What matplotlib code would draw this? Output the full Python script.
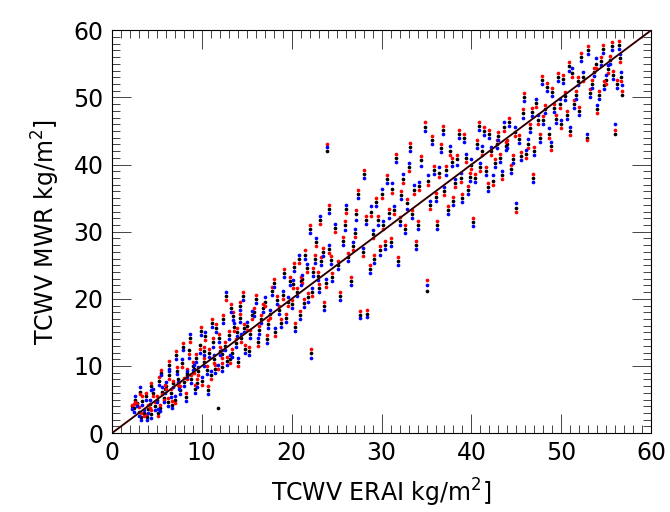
import matplotlib
matplotlib.use('Agg')
import matplotlib.pyplot as plt
from matplotlib.ticker import MultipleLocator

# TCWV from ERA-Interim (x) and the three MWR retrievals (y), kg/m2
erai = [2.2, 2.5, 2.6, 2.8, 3.0, 3.1, 3.2, 3.4, 3.6, 3.8,
        3.9, 4.0, 4.2, 4.3, 4.4, 4.6, 4.8, 5.0, 5.1, 5.2,
        5.4, 5.5, 5.6, 5.8, 5.9, 6.0, 6.2, 6.3, 6.4, 6.6,
        6.7, 6.8, 7.0, 7.1, 7.2, 7.4, 7.5, 7.6, 7.8, 7.9,
        8.0, 8.2, 8.3, 8.4, 8.6, 8.7, 8.8, 9.0, 9.1, 9.2,
        9.4, 9.5, 9.6, 9.8, 9.9, 10.0, 10.2, 10.3, 10.4, 10.6,
        10.7, 10.8, 11.0, 11.1, 11.2, 11.4, 11.5, 11.6, 11.8, 11.9,
        12.0, 12.2, 12.3, 12.4, 12.6, 12.7, 12.8, 13.0, 13.1, 13.2,
        13.4, 13.5, 13.6, 13.8, 13.9, 14.0, 14.2, 14.3, 14.4, 14.6,
        14.7, 14.8, 15.0, 15.2, 15.4, 15.6, 15.8, 16.0, 16.2, 16.4,
        16.6, 16.8, 17.0, 17.2, 17.4, 17.6, 17.8, 18.0, 18.2, 18.4,
        18.6, 18.8, 19.0, 19.2, 19.4, 19.6, 19.8, 20.0, 20.1, 20.3,
        20.4, 20.6, 20.8, 20.9, 21.0, 21.2, 21.4, 21.5, 21.7, 21.8,
        22.0, 22.1, 22.3, 22.4, 22.6, 22.7, 22.9, 23.0, 23.2, 23.3,
        23.5, 23.6, 23.8, 23.9, 24.1, 24.2, 24.4, 24.5, 24.8, 25.1,
        25.4, 25.7, 26.0, 26.3, 26.6, 27.0, 27.4, 27.6, 27.9, 28.3,
        28.4, 28.7, 29.0, 29.4, 29.8, 30.2, 30.6, 31.0, 31.4, 31.8,
        32.2, 32.6, 33.0, 33.4, 33.8, 34.2, 34.8, 35.0, 35.4, 35.8,
        36.2, 36.6, 37.0, 37.4, 37.8, 38.2, 38.6, 39.0, 39.4, 39.8,
        40.2, 40.6, 41.0, 41.4, 41.8, 42.2, 42.6, 43.0, 43.4, 43.8,
        44.2, 44.6, 45.0, 45.3, 45.7, 46.1, 46.5, 46.8, 47.2, 47.6,
        48.0, 48.4, 48.8, 49.2, 49.6, 50.0, 50.4, 50.8, 51.0, 51.4,
        51.8, 52.2, 52.8, 53.2, 53.6, 54.0, 54.4, 54.8, 55.2, 55.6,
        56.0, 56.2, 56.5, 56.8,
        25.9, 26.8, 27.2, 28.0, 28.8, 29.2, 29.6, 30.0, 30.4, 30.8,
        31.2, 31.6, 32.0, 32.4, 32.8, 33.2, 33.6, 34.0, 34.4, 35.2,
        35.6, 36.0, 36.4, 36.8, 37.2, 37.6, 38.0, 38.4, 38.8, 39.2,
        39.6, 40.0, 40.4, 40.8, 41.2, 41.6, 42.0, 42.4, 42.8, 43.2,
        43.6, 44.0, 44.4, 44.8, 45.5, 45.9, 46.3, 46.7, 47.0, 47.4,
        47.8, 48.2, 48.6, 49.0, 49.4, 49.8, 50.2, 50.6, 51.2, 51.6,
        52.0, 52.4, 53.0, 53.4, 53.8, 54.2, 54.6, 55.0, 55.4, 55.8,
        56.4, 56.6]

mwr_black = [4.0, 3.8, 5.0, 4.5, 3.2, 6.2, 2.4, 4.8, 3.0, 5.5,
             2.4, 3.6, 4.4, 7.0, 2.8, 6.0, 4.0, 5.0, 3.0, 7.8,
             3.8, 9.0, 6.2, 5.2, 6.6, 7.0, 4.6, 10.2, 8.6, 6.0,
             4.2, 7.4, 5.0, 11.6, 9.2, 8.0, 7.0, 6.4, 10.4, 12.8,
             7.6, 5.4, 8.6, 9.0, 12.4, 14.2, 8.0, 10.0, 9.6, 6.6,
             11.2, 7.4, 9.2, 13.2, 15.2, 7.8, 10.6, 12.2, 14.4, 9.4,
             6.4, 12.0, 8.6, 16.4, 13.6, 11.0, 9.6, 15.6, 3.7, 14.2,
             12.2, 9.8, 11.8, 17.0, 13.0, 20.4, 10.8, 14.6, 11.0, 18.6,
             12.0, 17.4, 15.8, 13.4, 15.0, 10.6, 17.2, 19.0, 14.2, 20.4,
             15.6, 12.6, 16.0, 12.2, 14.8, 17.6, 18.0, 20.0, 13.6, 15.4,
             17.0, 18.6, 19.6, 14.0, 16.2, 17.8, 21.2, 22.4, 15.0, 19.8,
             18.4, 16.4, 20.6, 23.8, 17.2, 19.6, 22.6, 19.2, 22.2, 24.8,
             15.8, 21.0, 26.0, 17.6, 22.6, 23.0, 19.4, 26.6, 24.6, 20.2,
             30.4, 12.0, 21.0, 24.0, 26.0, 28.4, 23.4, 21.6, 31.8, 25.6,
             27.0, 19.0, 22.4, 42.0, 33.4, 27.4, 25.8, 23.2, 30.6, 25.0,
             20.4, 28.6, 33.4, 26.2, 22.6, 29.8, 35.6, 17.6, 27.0, 31.8,
             17.8, 24.4, 29.6, 34.4, 27.2, 31.0, 37.8, 28.4, 33.2, 25.6,
             35.4, 30.4, 39.6, 32.6, 28.0, 36.8, 45.6, 21.2, 34.0, 39.2,
             31.0, 42.4, 36.0, 33.2, 40.4, 37.2, 44.6, 35.0, 41.0, 38.2,
             31.4, 43.0, 39.6, 45.0, 36.6, 42.0, 40.2, 44.2, 38.4, 42.8,
             46.4, 40.8, 33.6, 43.8, 47.6, 41.6, 45.4, 38.0, 49.2, 44.0,
             46.6, 51.6, 42.8, 48.4, 53.0, 46.0, 50.2, 54.6, 45.0, 49.0,
             52.4, 56.0, 44.0, 50.6, 53.8, 48.2, 55.4, 51.8, 54.2, 57.6,
             44.6, 52.0, 55.8, 50.4,
             31.0, 27.8, 32.6, 38.6, 33.0, 26.0, 31.8, 35.6, 28.0, 32.8,
             36.4, 41.0, 31.6, 37.8, 34.2, 42.6, 36.2, 31.0, 40.6, 37.6,
             43.6, 35.2, 38.8, 45.2, 39.2, 42.0, 34.6, 40.8, 38.0, 44.0,
             36.2, 40.0, 38.0, 45.8, 42.0, 39.0, 44.6, 37.6, 43.0, 41.0,
             45.6, 43.0, 39.4, 44.8, 41.2, 50.0, 43.0, 47.8, 42.0, 46.6,
             52.6, 48.2, 44.6, 50.8, 46.8, 49.0, 52.8, 47.4, 53.6, 50.4,
             48.0, 53.0, 57.0, 52.0, 55.0, 50.4, 57.2, 52.6, 55.6, 53.4,
             57.8, 53.0]

mwr_red = [4.2, 4.4, 4.6, 4.3, 3.9, 5.8, 3.0, 5.6, 2.6, 6.0,
           2.9, 4.2, 3.8, 7.4, 3.4, 5.5, 4.6, 5.6, 2.6, 8.4,
           4.2, 9.4, 5.8, 5.0, 7.2, 6.5, 5.2, 10.8, 8.0, 6.6,
           4.8, 7.8, 4.5, 12.2, 9.8, 7.2, 7.6, 7.0, 9.9, 13.4,
           8.2, 6.0, 8.0, 9.6, 11.8, 13.6, 8.6, 10.6, 9.0, 7.2,
           11.8, 8.0, 8.6, 12.6, 15.8, 7.2, 11.2, 12.8, 13.8, 10.0,
           7.0, 12.6, 8.0, 17.0, 14.2, 10.4, 10.2, 16.2, 9.6, 14.8,
           12.8, 10.4, 11.2, 17.6, 13.6, 19.8, 11.4, 15.2, 10.4, 19.2,
           12.6, 18.0, 15.2, 14.0, 15.6, 10.0, 17.8, 19.6, 13.6, 21.0,
           16.2, 13.2, 15.4, 12.8, 15.4, 17.0, 18.6, 20.6, 13.0, 16.0,
           17.6, 19.2, 19.0, 14.6, 16.8, 17.2, 21.8, 23.0, 14.4, 20.4,
           19.0, 17.0, 20.0, 24.4, 17.8, 19.0, 23.2, 19.8, 21.6, 25.4,
           16.4, 21.6, 25.4, 18.2, 23.2, 22.4, 20.0, 27.2, 24.0, 20.8,
           31.0, 12.6, 20.4, 24.6, 26.6, 27.8, 24.0, 22.2, 31.2, 26.2,
           27.6, 19.6, 21.8, 43.0, 34.0, 26.8, 26.4, 23.8, 30.0, 25.6,
           21.0, 29.2, 32.8, 26.8, 23.2, 29.2, 36.2, 18.2, 26.4, 32.4,
           18.4, 25.0, 29.0, 35.0, 27.8, 30.4, 38.4, 29.0, 32.6, 26.2,
           36.0, 31.0, 39.0, 33.2, 28.6, 36.2, 46.4, 22.8, 33.4, 39.8,
           31.6, 43.0, 35.4, 33.8, 41.0, 36.6, 45.2, 35.6, 40.4, 38.8,
           32.0, 43.6, 39.0, 45.6, 37.2, 41.4, 40.8, 44.8, 37.8, 43.4,
           47.0, 41.4, 33.0, 44.4, 48.2, 41.0, 46.0, 38.6, 48.6, 44.6,
           47.2, 52.2, 42.2, 49.0, 53.6, 45.4, 50.8, 55.2, 44.4, 49.6,
           53.0, 56.6, 43.6, 51.2, 54.4, 47.6, 56.0, 52.4, 53.6, 58.2,
           45.2, 52.6, 55.2, 51.0,
           31.6, 27.2, 33.2, 39.2, 32.4, 26.6, 32.4, 35.0, 28.6, 33.4,
           35.8, 41.6, 32.2, 37.2, 34.8, 43.2, 35.6, 31.6, 41.2, 37.0,
           44.2, 35.8, 38.2, 45.8, 39.8, 41.4, 35.2, 41.4, 37.4, 44.6,
           36.8, 39.4, 38.6, 46.4, 41.4, 39.6, 45.2, 37.0, 43.6, 41.6,
           45.0, 43.6, 40.0, 44.2, 41.8, 50.6, 42.4, 48.4, 42.6, 46.0,
           53.2, 48.8, 44.0, 51.4, 47.4, 48.4, 53.4, 48.0, 53.0, 51.0,
           48.6, 52.4, 57.6, 52.6, 54.4, 51.0, 57.8, 52.0, 56.2, 54.0,
           58.4, 52.4]

mwr_blue = [3.6, 3.2, 5.6, 4.0, 2.6, 6.8, 2.0, 4.2, 3.5, 5.0,
            1.9, 3.0, 5.0, 6.4, 2.3, 6.6, 3.5, 4.6, 3.6, 7.2,
            3.3, 8.6, 6.8, 4.6, 6.0, 7.6, 4.0, 9.6, 9.2, 5.4,
            3.8, 6.9, 5.6, 11.0, 8.8, 7.6, 6.6, 5.8, 11.0, 12.4,
            7.0, 4.8, 9.2, 8.4, 11.2, 14.8, 7.4, 9.4, 10.2, 6.0,
            10.6, 6.8, 9.8, 12.0, 14.6, 8.4, 10.0, 11.6, 15.0, 8.8,
            5.8, 11.4, 9.2, 15.8, 12.8, 11.6, 9.0, 15.0, 10.2, 13.6,
            11.6, 9.2, 12.4, 16.4, 12.4, 21.0, 10.2, 14.0, 11.6, 18.0,
            11.4, 16.8, 16.4, 12.8, 14.4, 11.2, 16.6, 18.4, 14.8, 19.8,
            15.0, 12.0, 16.6, 11.6, 14.2, 18.2, 17.4, 19.4, 14.2, 14.8,
            16.4, 18.0, 20.2, 13.4, 15.6, 18.4, 20.6, 21.8, 15.6, 19.2,
            17.8, 15.8, 21.2, 23.2, 16.6, 20.2, 22.0, 18.6, 22.8, 24.2,
            15.2, 20.4, 26.6, 17.0, 22.0, 23.6, 18.8, 26.0, 25.2, 19.6,
            29.8, 11.2, 21.6, 23.4, 25.4, 29.0, 22.8, 21.0, 32.4, 25.0,
            26.4, 18.4, 23.0, 42.6, 32.8, 28.0, 25.2, 22.6, 31.2, 24.4,
            19.8, 28.0, 34.0, 25.6, 22.0, 30.4, 35.0, 17.2, 27.6, 31.2,
            17.3, 23.8, 30.2, 33.8, 26.6, 31.6, 37.2, 27.8, 33.8, 25.0,
            34.8, 29.8, 40.2, 32.0, 27.4, 37.4, 45.0, 22.0, 34.6, 38.6,
            30.4, 41.8, 36.6, 32.6, 39.8, 37.8, 44.0, 34.4, 41.6, 37.6,
            30.8, 42.4, 40.2, 44.4, 36.0, 42.6, 39.6, 43.6, 39.0, 42.2,
            45.8, 40.2, 34.2, 43.2, 47.0, 42.2, 44.8, 37.4, 49.8, 43.4,
            46.0, 51.0, 43.4, 47.8, 52.4, 46.6, 49.6, 54.0, 45.6, 48.4,
            51.8, 55.4, 44.6, 50.0, 53.2, 48.8, 54.8, 51.2, 54.8, 57.0,
            46.0, 51.4, 56.4, 51.8,
            30.2, 28.4, 31.8, 38.0, 33.8, 25.4, 31.0, 36.4, 27.4, 32.0,
            37.2, 40.4, 31.0, 38.6, 33.4, 42.0, 37.0, 30.4, 39.8, 38.4,
            43.0, 34.6, 39.6, 44.6, 38.4, 42.8, 34.0, 40.0, 38.8, 43.4,
            35.6, 40.8, 37.4, 45.2, 42.8, 38.4, 44.0, 38.4, 42.4, 40.4,
            46.4, 42.4, 38.8, 45.6, 40.6, 49.4, 43.8, 47.2, 41.4, 47.4,
            52.0, 47.6, 45.4, 50.2, 46.2, 49.8, 52.2, 46.8, 54.4, 49.8,
            47.4, 53.8, 56.4, 51.4, 55.8, 49.8, 56.6, 53.4, 55.0, 52.8,
            57.2, 53.8]

fig = plt.figure(figsize=(6.7, 5.12), dpi=100)
ax = fig.add_axes([0.167, 0.154, 0.805, 0.787])

# scatter: black, red, blue retrievals at the same ERAI value
ax.scatter(erai, mwr_black, s=7, c='black', marker='o', linewidths=0, zorder=2)
ax.scatter(erai, mwr_red, s=7, c='red', marker='o', linewidths=0, zorder=3)
ax.scatter(erai, mwr_blue, s=7, c='blue', marker='o', linewidths=0, zorder=4)

# 1:1 line
ax.plot([0, 60], [0, 60], color='#8b1a1a', lw=1.4, zorder=5)
ax.plot([0, 60], [0, 60], color='black', lw=0.8, zorder=6)

ax.set_xlim(0, 60)
ax.set_ylim(0, 60)
ax.xaxis.set_major_locator(MultipleLocator(10))
ax.yaxis.set_major_locator(MultipleLocator(10))
ax.xaxis.set_minor_locator(MultipleLocator(1))
ax.yaxis.set_minor_locator(MultipleLocator(1))
ax.tick_params(which='both', direction='in', top=True, right=True, width=0.7, color='#444444')
ax.tick_params(which='major', length=14, labelsize=17, pad=6)
ax.tick_params(which='minor', length=6)
for sp in ax.spines.values():
    sp.set_linewidth(0.8)

ax.set_xlabel('TCWV ERAI kg/m$^2$]', fontsize=17, labelpad=8)
ax.set_ylabel('TCWV MWR kg/m$^2$]', fontsize=17, labelpad=8)

fig.savefig('out.png', dpi=100)
